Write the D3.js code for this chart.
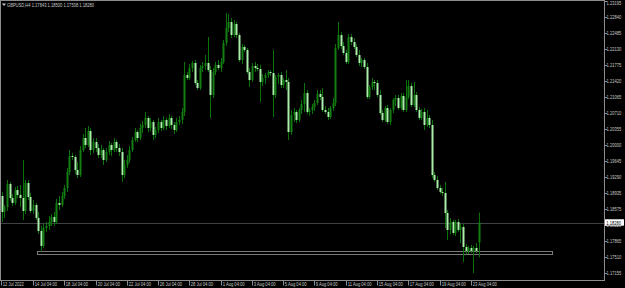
<!DOCTYPE html>
<html><head><meta charset="utf-8">
<script src="https://cdn.jsdelivr.net/npm/d3@7"></script>
<style>html,body{margin:0;padding:0;background:#000;overflow:hidden}svg{display:block}</style>
</head><body><svg id="c" width="625" height="288"></svg>
<script>
const symbol = "GBPUSD,H4";
const open = [
1.19002,1.18869,1.18515,1.18625,1.19135,1.18825,1.18714,1.19002,1.18892,1.18825,
1.18537,1.19158,1.18847,1.18537,1.18670,1.18382,1.18093,1.17761,1.18160,1.18204,
1.18293,1.18404,1.18293,1.18714,1.18670,1.18869,1.19047,1.19401,1.19756,1.19734,
1.19446,1.19335,1.19889,1.20155,1.20000,1.20310,1.19889,1.20067,1.19933,1.19778,
1.19889,1.19667,1.19845,1.20000,1.19889,1.20067,1.19933,1.19845,1.19335,1.19557,
1.19667,1.19889,1.20111,1.20288,1.20155,1.20377,1.20443,1.20599,1.20377,1.20510,
1.20222,1.20333,1.20510,1.20377,1.20554,1.20421,1.20599,1.20443,1.20333,1.20510,
1.20554,1.20732,1.21552,1.21485,1.21707,1.21818,1.21375,1.21264,1.21707,1.21751,
1.21818,1.21663,1.21109,1.21618,1.21774,1.21707,1.21840,1.22261,1.22594,1.22727,
1.22439,1.22683,1.22439,1.21884,1.22173,1.22106,1.21618,1.21441,1.21751,1.21707,
1.21685,1.21397,1.21485,1.21552,1.21618,1.21596,1.21109,1.21508,1.21552,1.21330,
1.21441,1.21397,1.20288,1.20665,1.20732,1.20554,1.20776,1.20909,1.21153,1.20732,
1.20776,1.20842,1.20931,1.21131,1.21064,1.20776,1.20732,1.20621,1.20820,1.20931,
1.22150,1.22439,1.22195,1.22040,1.21840,1.22394,1.22284,1.22173,1.21995,1.21818,
1.21884,1.21729,1.21064,1.21286,1.21397,1.21375,1.21109,1.20709,1.20554,1.20820,
1.20510,1.20776,1.20998,1.21042,1.20820,1.21086,1.20776,1.21064,1.21308,1.20887,
1.21109,1.20776,1.20599,1.20732,1.20443,1.20599,1.20443,1.19335,1.19224,1.19047,
1.18958,1.18936,1.18492,1.18116,1.18293,1.18049,1.18293,1.18116,1.18182,1.17739,
1.17650,1.17716,1.17650,1.17716,1.17843];
const high = [
1.19135,1.18958,1.18670,1.19224,1.19180,1.18914,1.19069,1.19091,1.19113,1.19667,
1.19224,1.19224,1.18936,1.18781,1.18714,1.18515,1.18204,1.18249,1.18293,1.18426,
1.18470,1.18515,1.18803,1.18869,1.18958,1.19113,1.19490,1.19889,1.19823,1.19778,
1.19623,1.19978,1.20244,1.20377,1.20421,1.20377,1.20155,1.20155,1.20022,1.20000,
1.19933,1.19933,1.20089,1.20044,1.20155,1.20111,1.20022,1.19933,1.19667,1.19778,
1.19978,1.20177,1.20377,1.20333,1.20466,1.20532,1.20732,1.20643,1.20599,1.20554,
1.20399,1.20599,1.20554,1.20643,1.20599,1.20687,1.20643,1.20510,1.20599,1.20643,
1.20820,1.21840,1.21618,1.21796,1.21862,1.21884,1.21441,1.21774,1.21840,1.21995,
1.22394,1.21751,1.21707,1.21840,1.21884,1.21929,1.22328,1.22926,1.22904,1.22816,
1.22771,1.22727,1.22483,1.22239,1.22217,1.22150,1.21707,1.21818,1.21840,1.21796,
1.21774,1.21574,1.21596,1.21663,1.21663,1.22106,1.21552,1.21596,1.21618,1.21485,
1.21663,1.21485,1.20776,1.20820,1.20776,1.20820,1.20998,1.21375,1.21219,1.20820,
1.20909,1.20998,1.21219,1.21219,1.21264,1.20865,1.20820,1.20865,1.21042,1.22239,
1.22727,1.22505,1.22284,1.22106,1.22461,1.22461,1.22372,1.22239,1.22106,1.21929,
1.21929,1.21818,1.21330,1.21485,1.21441,1.21441,1.21219,1.20776,1.20865,1.20887,
1.20820,1.21042,1.21109,1.21109,1.21153,1.21153,1.21441,1.21441,1.21375,1.21397,
1.21175,1.20842,1.20798,1.20820,1.20776,1.20665,1.20554,1.19401,1.19313,1.19113,
1.19047,1.19180,1.18559,1.18382,1.18337,1.18337,1.18359,1.18249,1.18249,1.17805,
1.17761,1.17783,1.17761,1.17827,1.18500];
const low = [
1.18803,1.18293,1.18382,1.18537,1.18758,1.18648,1.18670,1.18825,1.18625,1.18337,
1.18470,1.18781,1.18492,1.18470,1.18337,1.18027,1.17628,1.17716,1.18071,1.18116,
1.18204,1.18204,1.18249,1.18559,1.18625,1.18803,1.18958,1.19335,1.19667,1.19357,
1.19268,1.19291,1.19845,1.19933,1.19956,1.19778,1.19823,1.19845,1.19712,1.19712,
1.19557,1.19623,1.19778,1.19756,1.19845,1.19845,1.19756,1.19180,1.19268,1.19490,
1.19601,1.19845,1.20067,1.20067,1.20111,1.20266,1.20377,1.20288,1.20310,1.20111,
1.20155,1.20266,1.20310,1.20333,1.20333,1.20377,1.20355,1.20244,1.20288,1.20443,
1.20466,1.20643,1.21441,1.21441,1.21618,1.21330,1.21219,1.21219,1.21618,1.21663,
1.21618,1.20599,1.21042,1.21552,1.21663,1.21618,1.21796,1.22195,1.22505,1.22372,
1.22394,1.22372,1.21840,1.21796,1.22062,1.21574,1.21286,1.21397,1.21618,1.21641,
1.20953,1.21308,1.21352,1.21485,1.21530,1.20621,1.21042,1.21352,1.21264,1.21264,
1.21219,1.20111,1.20222,1.20510,1.20488,1.20510,1.20687,1.20732,1.20687,1.20643,
1.20687,1.20754,1.20887,1.20998,1.20732,1.20687,1.20554,1.20576,1.20754,1.20865,
1.22106,1.22128,1.21995,1.21796,1.21796,1.22217,1.22128,1.21951,1.21751,1.21729,
1.21685,1.21020,1.21020,1.21219,1.21219,1.21064,1.20665,1.20510,1.20510,1.20466,
1.20443,1.20709,1.20865,1.20776,1.20776,1.20732,1.20732,1.21020,1.20842,1.20842,
1.20732,1.20554,1.20554,1.20333,1.20399,1.20377,1.19268,1.19180,1.19002,1.18914,
1.18869,1.18160,1.17894,1.18027,1.18005,1.17982,1.18071,1.17827,1.17406,1.17584,
1.17584,1.17606,1.17162,1.17606,1.17508];
const close = [
1.18869,1.18515,1.18625,1.19135,1.18825,1.18714,1.19002,1.18892,1.18825,1.18537,
1.19158,1.18847,1.18537,1.18670,1.18382,1.18093,1.17761,1.18160,1.18204,1.18293,
1.18404,1.18293,1.18714,1.18670,1.18869,1.19047,1.19401,1.19756,1.19734,1.19446,
1.19335,1.19889,1.20155,1.20000,1.20310,1.19889,1.20067,1.19933,1.19778,1.19889,
1.19667,1.19845,1.20000,1.19889,1.20067,1.19933,1.19845,1.19335,1.19557,1.19667,
1.19889,1.20111,1.20288,1.20155,1.20377,1.20443,1.20599,1.20377,1.20510,1.20222,
1.20333,1.20510,1.20377,1.20554,1.20421,1.20599,1.20443,1.20333,1.20510,1.20554,
1.20732,1.21552,1.21485,1.21707,1.21818,1.21375,1.21264,1.21707,1.21751,1.21818,
1.21663,1.21109,1.21618,1.21774,1.21707,1.21840,1.22261,1.22594,1.22727,1.22439,
1.22683,1.22439,1.21884,1.22173,1.22106,1.21618,1.21441,1.21751,1.21707,1.21685,
1.21397,1.21485,1.21552,1.21618,1.21596,1.21109,1.21508,1.21552,1.21330,1.21441,
1.21397,1.20288,1.20665,1.20732,1.20554,1.20776,1.20909,1.21153,1.20732,1.20776,
1.20842,1.20931,1.21131,1.21064,1.20776,1.20732,1.20621,1.20820,1.20931,1.22150,
1.22439,1.22195,1.22040,1.21840,1.22394,1.22284,1.22173,1.21995,1.21818,1.21884,
1.21729,1.21064,1.21286,1.21397,1.21375,1.21109,1.20709,1.20554,1.20820,1.20510,
1.20776,1.20998,1.21042,1.20820,1.21086,1.20776,1.21064,1.21308,1.20887,1.21109,
1.20776,1.20599,1.20732,1.20443,1.20599,1.20443,1.19335,1.19224,1.19047,1.18958,
1.18936,1.18492,1.18116,1.18293,1.18049,1.18293,1.18116,1.18182,1.17739,1.17650,
1.17716,1.17650,1.17716,1.17650,1.18280];

const timeTickIndex = [0,13,25,37,49,61,73,85,97,109,121,133,145,157,169,181];
const timeTickLabels = ["12 Jul 2022","14 Jul 04:00","18 Jul 04:00","20 Jul 04:00","22 Jul 04:00",
  "26 Jul 04:00","28 Jul 04:00","1 Aug 04:00","3 Aug 04:00","5 Aug 04:00","9 Aug 04:00",
  "11 Aug 04:00","15 Aug 04:00","17 Aug 04:00","19 Aug 04:00","23 Aug 04:00"];
const priceTicks = [1.23195,1.22840,1.22485,1.22130,1.21775,1.21420,1.21065,1.20710,1.20355,
  1.20000,1.19645,1.19290,1.18935,1.18575,1.18220,1.17865,1.17510,1.17155];
const bidPrice = 1.18280;
const zoneHigh = 1.17650, zoneLow = 1.17577;
const zoneStart = 14.5, zoneEnd = 212;

const svg = d3.select("#c");
svg.append("rect").attr("width",625).attr("height",288).attr("fill","#000");

const plotR = 604.5, plotB = 280.5;
const x = d3.scaleLinear().domain([0, open.length - 1]).range([-0.9, 478.7]);
const y = d3.scaleLinear().domain([1.17155, 1.23195]).range([273.3, 0.9]);

const FONT = "'Liberation Sans', Arial, sans-serif";
const SX = 0.73;
function label(g, tx, ty, txt, fill){
  return g.append("text").attr("transform", `translate(${tx},${ty}) scale(${SX},1)`)
    .attr("font-family", FONT).attr("font-size", 5.6).attr("fill", fill).text(txt);
}

svg.append("defs").append("clipPath").attr("id","clip")
  .append("rect").attr("x",0).attr("y",0).attr("width",604).attr("height",280);
const plot = svg.append("g").attr("clip-path","url(#clip)");

// bid line
const bidY = Math.round(y(bidPrice)) + 0.5;
plot.append("line").attr("x1",0).attr("x2",plotR).attr("y1",bidY).attr("y2",bidY)
  .attr("stroke","#3d4247").attr("stroke-width",1);

// zone rectangle
plot.append("rect").attr("x",Math.round(x(zoneStart))+0.5).attr("y",Math.round(y(zoneHigh))+0.5)
  .attr("width",Math.round(x(zoneEnd))-Math.round(x(zoneStart)))
  .attr("height",Math.max(2,Math.round(y(zoneLow))-Math.round(y(zoneHigh))))
  .attr("fill","none").attr("stroke","#7a7a7a").attr("stroke-width",1);

// candles
const idx = d3.range(open.length);
plot.append("g").selectAll("line").data(idx).join("line")
  .attr("x1", i => Math.round(x(i)) + 0.5).attr("x2", i => Math.round(x(i)) + 0.5)
  .attr("y1", i => y(high[i])).attr("y2", i => y(low[i]))
  .attr("stroke", "#0b720b").attr("stroke-width", 1);
plot.append("g").selectAll("rect").data(idx).join("rect")
  .attr("x", i => Math.round(x(i)) - 0.5).attr("width", 2)
  .attr("y", i => Math.min(y(open[i]), y(close[i])))
  .attr("height", i => Math.max(1, Math.abs(y(open[i]) - y(close[i]))))
  .attr("fill", i => close[i] >= open[i] ? "#137f13" : "#a9eea9");

// frame
svg.append("rect").attr("x",0.5).attr("y",0.5).attr("width",plotR-0.5).attr("height",plotB-0.5)
  .attr("fill","none").attr("stroke","#8c8c8c").attr("stroke-width",1);

// price axis
const ya = svg.append("g");
priceTicks.forEach(p => {
  const py = Math.round(y(p)) + 0.5;
  ya.append("line").attr("x1",plotR).attr("x2",plotR+2.5).attr("y1",py).attr("y2",py).attr("stroke","#8c8c8c");
  label(ya, 606.5, Math.max(4.6, y(p) + 2), p.toFixed(5), "#c8c8c8");
});
const by = y(bidPrice);
ya.append("rect").attr("x",605).attr("y",by-3.3).attr("width",19).attr("height",6.4).attr("fill","#ffffff");
label(ya, 606.3, by + 2, bidPrice.toFixed(5), "#000000");

// time axis
const xa = svg.append("g");
timeTickIndex.forEach((ti, k) => {
  const tx = Math.max(1, Math.round(x(ti))) + 0.5;
  xa.append("line").attr("x1",tx).attr("x2",tx).attr("y1",plotB).attr("y2",plotB+5).attr("stroke","#8c8c8c");
  label(xa, tx + 1.3, 286.3, timeTickLabels[k], "#c8c8c8");
});

// header
svg.append("path").attr("d","M2,3.5 L6,3.5 L4,6 Z").attr("fill","#c8c8c8");
const n = open.length - 1;
label(svg, 7, 6.6, `${symbol}  ${open[n].toFixed(5)} ${high[n].toFixed(5)} ${low[n].toFixed(5)} ${close[n].toFixed(5)}`, "#c8c8c8");
</script></body></html>
